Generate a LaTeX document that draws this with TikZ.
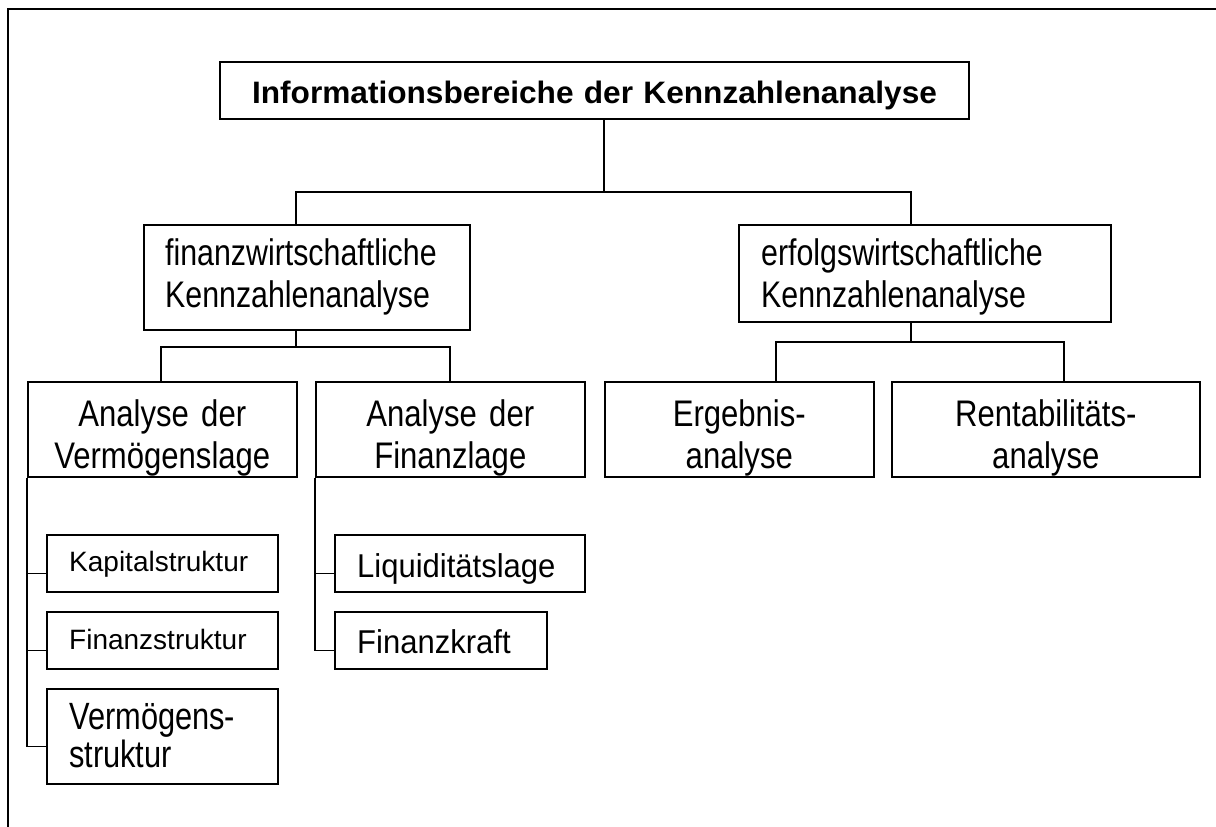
\documentclass[tikz,border=0pt]{standalone}
\usepackage{fontspec}
\setmainfont{Liberation Sans}
\newfontfamily\ftitle{Liberation Sans}[FakeStretch=1.02]
\newfontfamily\fwide{Liberation Sans}[FakeStretch=0.82]
\newfontfamily\fmidd{Liberation Sans}[FakeStretch=0.84]
\newfontfamily\fverm{Liberation Sans}[FakeStretch=0.81]
\newfontfamily\fliq{Liberation Sans}[FakeStretch=0.94]
\usetikzlibrary{calc}
\begin{document}
\begin{tikzpicture}[x=1pt,y=-1pt,
  box/.style={draw, line width=1.6pt, inner sep=0pt, anchor=north west},
  ltxt/.style={inner sep=0pt, text width=400pt, align=left, anchor=base west},
  ctxt/.style={inner sep=0pt, text width=400pt, align=center, anchor=base},
  conn/.style={line width=1.3pt},
  ftop/.style={font=\ftitle\bfseries\fontsize{31}{36}\selectfont},
  fbig/.style={font=\fwide\fontsize{37}{42}\selectfont},
  fmid/.style={font=\fmidd\fontsize{37}{42}\selectfont},
  fvm/.style={font=\fverm\fontsize{38}{38}\selectfont},
  flq/.style={font=\fliq\fontsize{33}{38}\selectfont},
  fsm/.style={font=\fontsize{28}{32}\selectfont}]
\useasboundingbox (0,0) rectangle (1216,827);
% frame
\draw[line width=1.6pt] (8,827) -- (8,9) -- (1216,9);
% boxes
\node[box, minimum width=749, minimum height=57] (T) at (219,61) {};
\node[box, minimum width=326, minimum height=105] (F) at (143,224) {};
\node[box, minimum width=372, minimum height=97] (E) at (738,224) {};
\node[box, minimum width=269, minimum height=95] (AV) at (27,381) {};
\node[box, minimum width=269, minimum height=95] (AF) at (315,381) {};
\node[box, minimum width=269, minimum height=95] (Er) at (604,381) {};
\node[box, minimum width=308, minimum height=95] (R) at (891,381) {};
\node[box, minimum width=231, minimum height=57] (Kap) at (46,534) {};
\node[box, minimum width=231, minimum height=57] (Fin) at (46,611) {};
\node[box, minimum width=231, minimum height=95] (Verm) at (46,688) {};
\node[box, minimum width=250, minimum height=57] (Liq) at (334,534) {};
\node[box, minimum width=212, minimum height=57] (Fk) at (334,611) {};
% texts
\node[ctxt, ftop, text width=900pt] (tT) at (594.5,103) {Informationsbereiche der Kennzahlenanalyse};
\node[ltxt, fbig] (tF) at (165,265) {finanzwirtschaftliche\\Kennzahlenanalyse};
\node[ltxt, fbig] (tE) at (761,265) {erfolgswirtschaftliche\\Kennzahlenanalyse};
\node[ctxt, fmid] (tAV) at (AV.north |- 0,426) {Analyse der\\Vermögenslage};
\node[ctxt, fmid] (tAF) at (AF.north |- 0,426) {Analyse der\\Finanzlage};
\node[ctxt, fmid] (tEr) at (Er.north |- 0,426) {Ergebnis-\\analyse};
\node[ctxt, fmid] (tR) at (R.north |- 0,426) {Rentabilitäts-\\analyse};
\node[ltxt, fsm] (tKap) at (69,571) {Kapitalstruktur};
\node[ltxt, fsm] (tFin) at (69,649) {Finanzstruktur};
\node[ltxt, fvm] (tVerm) at (69,729) {Vermögens-\\struktur};
\node[ltxt, flq] (tLiq) at (357,577) {Liquiditätslage};
\node[ltxt, flq] (tFk) at (357,653) {Finanzkraft};
% junction coordinates
\coordinate (tj) at (604,192);
\coordinate (fj) at (296,192);
\coordinate (ej) at (911,192);
\coordinate (fb) at (296,347);
\coordinate (avj) at (161,347);
\coordinate (afj) at (450,347);
\coordinate (eb) at (911,342);
\coordinate (erj) at (776,342);
\coordinate (rj) at (1064,342);
% connectors
\draw[conn] (T.south -| tj) -- (tj);
\draw[conn] (fj |- F.north) -- (fj) -- (ej) -- (ej |- E.north);
\draw[conn] (fb |- F.south) -- (fb);
\draw[conn] (avj |- AV.north) -- (avj) -- (afj) -- (afj |- AF.north);
\draw[conn] (eb |- E.south) -- (eb);
\draw[conn] (erj |- Er.north) -- (erj) -- (rj) -- (rj |- R.north);
\draw[conn] (AV.south west) |- ($(Kap.west)+(0,10)$);
\draw[conn] (AV.south west) |- ($(Fin.west)+(0,10)$);
\draw[conn] (AV.south west) |- ($(Verm.west)+(0,10)$);
\draw[conn] (AF.south west) |- ($(Liq.west)+(0,10)$);
\draw[conn] (AF.south west) |- ($(Fk.west)+(0,10)$);
\end{tikzpicture}
\end{document}
